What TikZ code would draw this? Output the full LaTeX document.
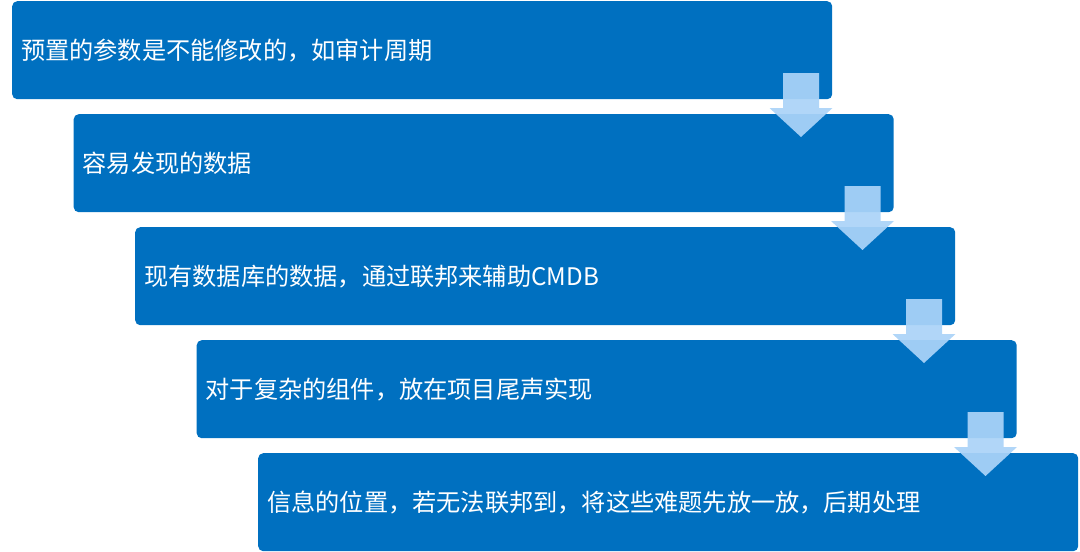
\documentclass[tikz,border=0pt]{standalone}
\usepackage{fontspec}
\newfontfamily\cjkfont{Noto Sans CJK SC}
\definecolor{boxblue}{HTML}{0070C0}
\definecolor{arrowblue}{HTML}{ABD3F8}
\begin{document}
\begin{tikzpicture}[x=1pt,y=-1pt,
  stepbox/.style={rectangle, fill=boxblue, rounded corners=5pt, anchor=north west,
    text width=802pt, inner xsep=9pt, inner ysep=0pt, minimum height=98pt, align=left,
    text=white, font=\cjkfont\fontsize{24.2}{28}\selectfont},
  downarrow/.style={fill=arrowblue, fill opacity=0.93}]
\useasboundingbox (0,0) rectangle (1080,552);
\foreach \i/\t in {0/{预置的参数是不能修改的，如审计周期},
                   1/{容易发现的数据},
                   2/{现有数据库的数据，通过联邦来辅助CMDB},
                   3/{对于复杂的组件，放在项目尾声实现},
                   4/{信息的位置，若无法联邦到，将这些难题先放一放，后期处理}}{
  \node[stepbox] (b\i) at ({12+61.5*\i},{1+113*\i}) {\t};
}
\foreach \i in {0,1,2,3}{
  \coordinate (a\i) at ({801+61.5*\i},{73+113*\i});
  \fill[downarrow] (a\i) ++(-18,0) -- ++(36,0) -- ++(0,35) -- ++(13.5,0)
    -- ++(-31.5,29) -- ++(-31.5,-29) -- ++(13.5,0) -- cycle;
}
\end{tikzpicture}
\end{document}
